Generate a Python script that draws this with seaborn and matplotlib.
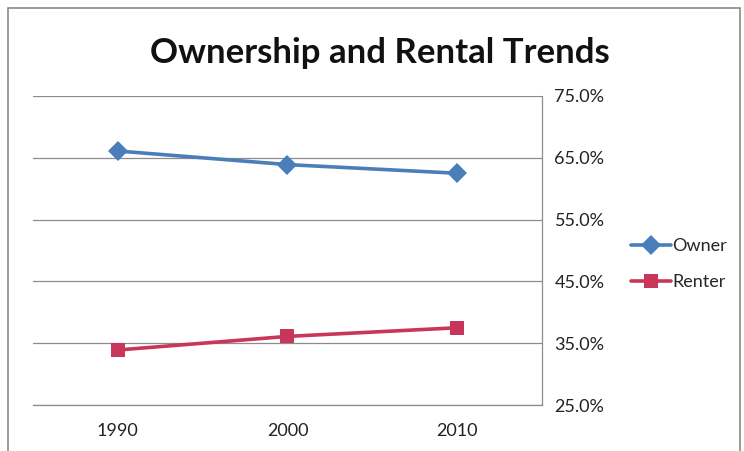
import matplotlib
matplotlib.use("Agg")
import matplotlib.pyplot as plt
from matplotlib.patches import Rectangle
from matplotlib.ticker import FuncFormatter, FixedLocator
import seaborn as sns
import pandas as pd

years = ["1990", "2000", "2010"]
owner = [66.1, 63.9, 62.5]
renter = [33.9, 36.1, 37.5]
series_names = ["Owner", "Renter"]
y_ticks = [25, 35, 45, 55, 65, 75]
title = "Ownership and Rental Trends"

df = pd.DataFrame({
    "Year": years * 2,
    "Share": owner + renter,
    "Tenure": [series_names[0]] * len(years) + [series_names[1]] * len(years),
})

sns.set_theme(style="white")
plt.rcParams["font.family"] = ["Lato", "DejaVu Sans"]

W, H = 744, 451
fig = plt.figure(figsize=(W / 100, H / 100), dpi=100)
fig.patch.set_facecolor("white")

# outer chart frame
fig.patches.append(Rectangle((8 / W, -0.05), (740 - 8) / W, 1.05 - 8 / H,
                             transform=fig.transFigure, fill=False,
                             edgecolor="#8a8a8a", linewidth=1.2, zorder=0))

ax = fig.add_axes([33 / W, 1 - 405 / H, (542 - 33) / W, (405 - 96) / H])

palette = {"Owner": "#4a7ebb", "Renter": "#c8375a"}
sns.lineplot(data=df, x="Year", y="Share", hue="Tenure", style="Tenure",
             markers={"Owner": "D", "Renter": "s"}, dashes=False,
             palette=palette, linewidth=2.6, markersize=10,
             markeredgewidth=0, ax=ax, sort=False, legend=True)

ax.set_xlim(-0.5, 2.5)
ax.set_ylim(25, 75)
ax.yaxis.set_major_locator(FixedLocator(y_ticks))
ax.yaxis.tick_right()
ax.yaxis.set_major_formatter(FuncFormatter(lambda v, _: f"{v:.1f}%"))
ax.grid(axis="y", color="#8c8c8c", linewidth=0.9)
ax.set_axisbelow(True)
for side in ["top", "left"]:
    ax.spines[side].set_visible(False)
for side in ["right", "bottom"]:
    ax.spines[side].set_color("#8c8c8c")
    ax.spines[side].set_linewidth(0.9)
ax.tick_params(axis="both", length=0, labelsize=13, colors="#222222")
ax.tick_params(axis="y", pad=9)
ax.tick_params(axis="x", pad=13)
ax.set_xlabel("")
ax.set_ylabel("")

handles, labels = ax.get_legend_handles_labels()
ax.legend_.remove()
fig.legend(handles, labels, loc="center left",
           bbox_to_anchor=(631 / W, 1 - 264 / H), frameon=False,
           fontsize=13, handlelength=2.2, handletextpad=0.1,
           labelspacing=1.1, borderaxespad=0, borderpad=0)

fig.text(380 / W, 1 - 53 / H, title, ha="center", va="center",
         fontsize=25, fontweight="bold", color="#111111")

fig.savefig("out.png", dpi=100, facecolor="white")
